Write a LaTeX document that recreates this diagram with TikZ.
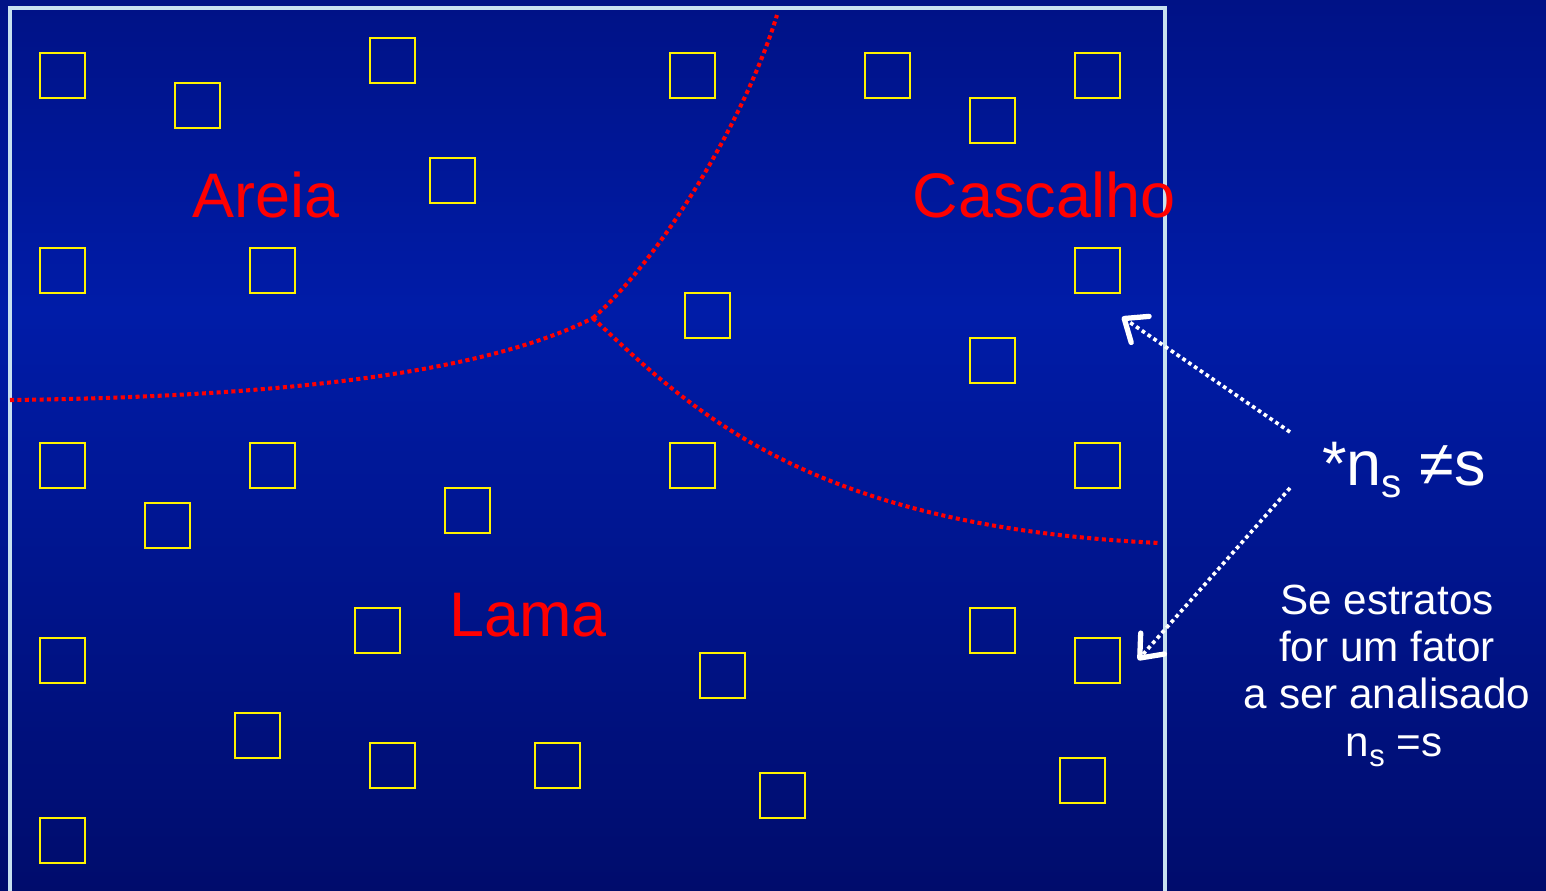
\documentclass[tikz,border=0pt]{standalone}
\usepackage{fontspec}
\setmainfont{Liberation Sans}
\usetikzlibrary{arrows.meta}

\definecolor{fundoA}{RGB}{0,18,134}
\definecolor{fundoB}{RGB}{0,28,168}
\definecolor{fundoC}{RGB}{0,12,108}
\definecolor{moldura}{RGB}{200,225,240}

\begin{document}
\begin{tikzpicture}[x=0.01cm, y=-0.01cm,
  amostra/.style={draw=yellow, line width=0.55pt, minimum size=0.45cm, inner sep=0pt},
  limite/.style={red, line width=1.15pt, dash pattern=on 1.15pt off 0.95pt},
  seta/.style={white, line width=1.05pt, dash pattern=on 1.05pt off 0.95pt,
    -{Straight Barb[length=5.5pt, width=9pt, line width=1.5pt, round]}},
  estrato/.style={red, font=\fontsize{17.9}{20}\selectfont}]
\useasboundingbox (0,0) rectangle (1546,890);
% background
\shade [top color=fundoA, bottom color=fundoB] (0,0) rectangle (1546,310);
\shade [top color=fundoB, bottom color=fundoC] (0,310) rectangle (1546,890);
\draw [moldura, line width=1pt] (10,900) -- (10,8) -- (1165,8) -- (1165,900);

% sampling units
\foreach \x/\y [count=\i] in {40/53, 175/83, 370/38, 670/53, 865/53, 1075/53, 970/98,
    430/158, 40/248, 250/248, 1075/248, 685/293, 970/338, 40/443, 250/443, 670/443,
    1075/443, 145/503, 445/488, 355/608, 970/608, 40/638, 1075/638, 700/653,
    235/713, 370/743, 535/743, 1060/758, 760/773, 40/818}
  \node [amostra] (q\i) at (\x+22.5,\y+22.5) {};

% strata boundaries
\coordinate (j) at (593,318);
\draw [limite] (10,400) .. controls (350,396) and (510,360) .. (j);
\draw [limite] (j) .. controls (660,260) and (745,120) .. (777,15);
\draw [limite] (j) .. controls (700,420) and (820,527) .. (1160,543);

\node [estrato] (areia) at (266,195) {Areia};
\node [estrato] (cascalho) at (1044,195) {Cascalho};
\node [estrato] (lama) at (528,615) {Lama};

% note on the right
\node [white, anchor=base, font=\fontsize{17.9}{20}\selectfont] (ns) at (1404,485)
  {*n\raisebox{-0.2em}{\fontsize{11.5}{12}\selectfont s} ≠s};
\node [white, align=center, font=\fontsize{12}{13.4}\selectfont] (fator) at (1387,676)
  {Se estratos\\for um fator\\a ser analisado\\\hspace{4pt}n\raisebox{-0.25em}{\fontsize{8.8}{9}\selectfont s} =s};
\coordinate (t1) at (1290,432);
\coordinate (t2) at (1290,488);
\coordinate (h1) at (1122,317);
\coordinate (h2) at (1138,660);
\draw [seta] (t1) -- (h1);
\draw [seta] (t2) -- (h2);
\end{tikzpicture}
\end{document}
